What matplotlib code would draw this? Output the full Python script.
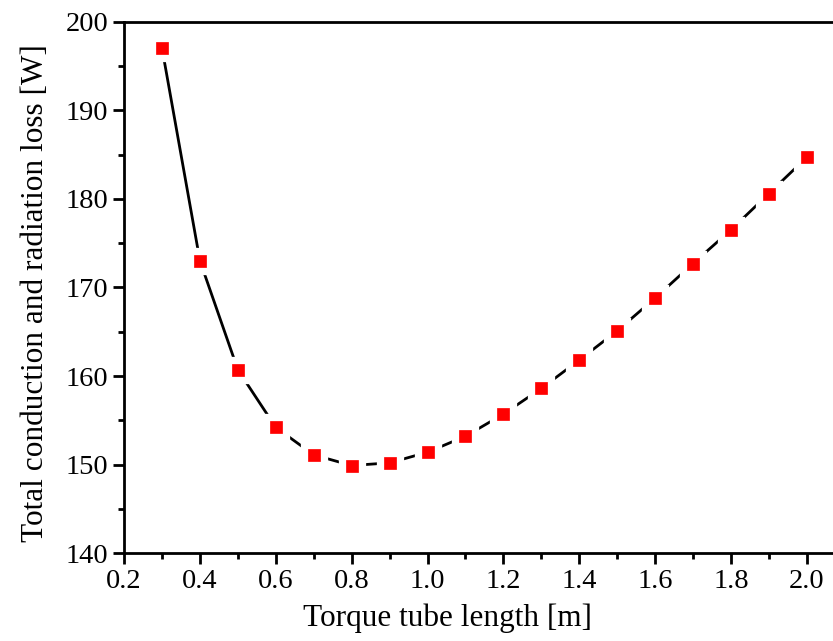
import matplotlib
matplotlib.use('Agg')
import matplotlib.pyplot as plt
from matplotlib.ticker import MultipleLocator

# Дані
length_m = [0.3, 0.4, 0.5, 0.6, 0.7, 0.8, 0.9, 1.0, 1.1, 1.2,
            1.3, 1.4, 1.5, 1.6, 1.7, 1.8, 1.9, 2.0]
loss_w = [197.0, 173.0, 160.7, 154.2, 151.1, 149.9, 150.2, 151.4, 153.2, 155.7,
          158.6, 161.8, 165.1, 168.8, 172.7, 176.5, 180.6, 184.7]

plt.rcParams['font.family'] = ['Liberation Serif', 'DejaVu Serif']

fig = plt.figure(figsize=(8.33, 6.41), dpi=100)
ax = fig.add_axes([0.149, 0.137, 0.865, 0.829])

# Лінія з розривами біля маркерів (біла обводка маркера)
ax.plot(length_m, loss_w, color='black', linewidth=2, marker='s',
        markersize=8.5, markerfacecolor='white', markeredgecolor='white',
        markeredgewidth=11, zorder=3)
ax.plot(length_m, loss_w, linestyle='none', marker='s', markersize=8.5,
        markerfacecolor='red', markeredgecolor='red', markeredgewidth=0.5,
        zorder=4)

ax.set_xlim(0.2, 2.1)
ax.set_ylim(140, 200)
ax.xaxis.set_major_locator(MultipleLocator(0.2))
ax.xaxis.set_minor_locator(MultipleLocator(0.1))
ax.yaxis.set_major_locator(MultipleLocator(10))
ax.yaxis.set_minor_locator(MultipleLocator(5))
ax.xaxis.set_major_formatter(plt.FuncFormatter(lambda v, p: f'{v:.1f}'))

for s in ax.spines.values():
    s.set_linewidth(2)
ax.spines['right'].set_visible(False)
ax.tick_params(which='major', direction='out', length=8, width=2, labelsize=20.5)
ax.tick_params(which='minor', direction='out', length=4, width=2)
ax.tick_params(top=False, right=False, which='both')

ax.set_xlabel('Torque tube length [m]', fontsize=22.5)
ax.set_ylabel('Total conduction and radiation loss [W]', fontsize=22.5)
ax.xaxis.set_label_coords(0.449, -0.095)
ax.yaxis.set_label_coords(-0.103, 0.49)

fig.savefig('out.png', dpi=100)
